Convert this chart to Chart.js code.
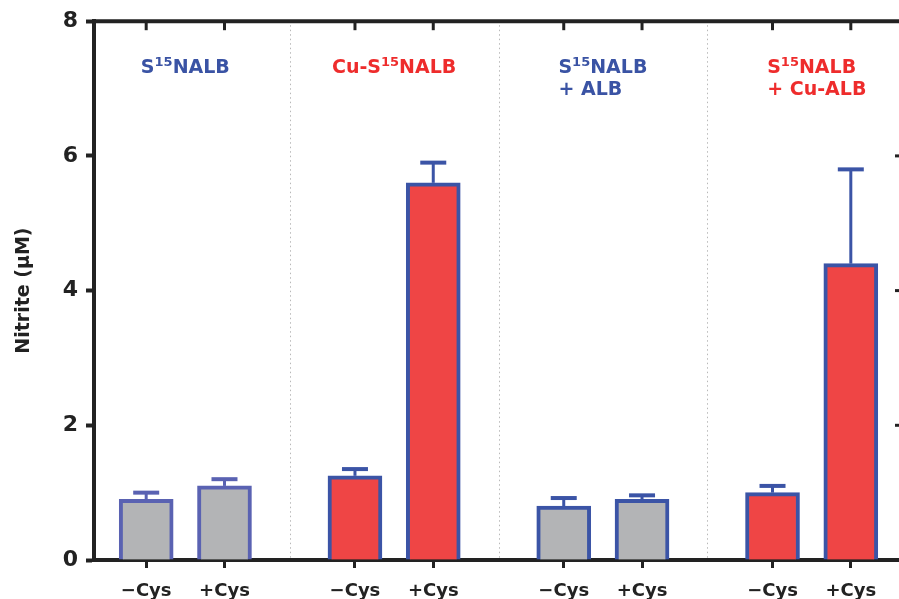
<!DOCTYPE html>
<html>
<head>
<meta charset="utf-8">
<script src="https://cdn.jsdelivr.net/npm/chart.js@4"></script>
<style>
    html, body { margin: 0; padding: 0; background: #fff; overflow: hidden; }
    canvas { display: block; }
</style>
</head>
<body>
<canvas id="nitriteChart" width="910" height="599"></canvas>
<script>
// Data
const slots = [2, 5, 10, 13, 18, 21, 26, 29];          // x slot of each bar
const tickLabels = ['\u2212Cys', '+Cys', '\u2212Cys', '+Cys', '\u2212Cys', '+Cys', '\u2212Cys', '+Cys'];
const nitrite = [0.9, 1.1, 1.25, 5.6, 0.8, 0.9, 1.0, 4.4];
const errorUp = [0.1, 0.1, 0.1, 0.3, 0.12, 0.06, 0.1, 1.4];
const separators = [7.5, 15.5, 23.5];
const groupLines = [['S{15}NALB'], ['Cu-S{15}NALB'], ['S{15}NALB', '+ ALB'], ['S{15}NALB', '+ Cu-ALB']];

// Styles
const BLUE = '#3a53a4';
const RED = '#ee2c2c';
const INK = '#222222';
const groupColors = [BLUE, RED, BLUE, RED];
const barFill = ['#b3b4b6', '#b3b4b6', '#ef4545', '#ef4545', '#b3b4b6', '#b3b4b6', '#ef4545', '#ef4545'];
const barEdge = ['#5a62b2', '#5a62b2', '#3b54a6', '#3b54a6', '#3b54a6', '#3b54a6', '#3b54a6', '#3b54a6'];
const FONT = "'DejaVu Sans', Verdana, sans-serif";

// Draws a label with {nn} as superscript
function drawRich(ctx, str, x, y, size) {
    const parts = str.split(/(\{\d+\})/).filter(p => p.length);
    let cx = x;
    parts.forEach(p => {
        const sup = p.startsWith('{');
        const txt = sup ? p.slice(1, -1) : p;
        ctx.font = `bold ${sup ? Math.round(size * 0.7) : size}px ${FONT}`;
        ctx.fillText(txt, cx, sup ? y - size * 0.38 : y);
        cx += ctx.measureText(txt).width;
    });
    return cx - x;
}

function richWidth(ctx, str, size) {
    const parts = str.split(/(\{\d+\})/).filter(p => p.length);
    let w = 0;
    parts.forEach(p => {
        const sup = p.startsWith('{');
        const txt = sup ? p.slice(1, -1) : p;
        ctx.font = `bold ${sup ? Math.round(size * 0.7) : size}px ${FONT}`;
        w += ctx.measureText(txt).width;
    });
    return w;
}

const decorPlugin = {
    id: 'decor',
    beforeDatasetsDraw(chart) {
        const { ctx, chartArea, scales } = chart;
        ctx.save();
        ctx.strokeStyle = '#b8b8b8';
        ctx.lineWidth = 1;
        ctx.setLineDash([1.5, 3]);
        separators.forEach(s => {
            const x = Math.round(scales.x.getPixelForValue(s)) + 0.5;
            ctx.beginPath();
            ctx.moveTo(x, chartArea.top + 4);
            ctx.lineTo(x, chartArea.bottom);
            ctx.stroke();
        });
        ctx.restore();
    },
    afterDatasetsDraw(chart) {
        const { ctx, scales } = chart;
        ctx.save();
        // upper error bars
        nitrite.forEach((v, i) => {
            const x = scales.x.getPixelForValue(slots[i]);
            const yTop = scales.y.getPixelForValue(v);
            const yErr = scales.y.getPixelForValue(v + errorUp[i]);
            ctx.strokeStyle = barEdge[i];
            ctx.lineWidth = 3;
            ctx.beginPath();
            ctx.moveTo(x, yTop);
            ctx.lineTo(x, yErr);
            ctx.stroke();
            ctx.lineWidth = 4;
            ctx.beginPath();
            ctx.moveTo(x - 13, yErr);
            ctx.lineTo(x + 13, yErr);
            ctx.stroke();
        });
        ctx.restore();
    },
    afterDraw(chart) {
        const { ctx, chartArea, scales } = chart;
        ctx.save();
        ctx.strokeStyle = INK;
        ctx.lineWidth = 4;
        // top frame line
        ctx.beginPath();
        ctx.moveTo(chartArea.left, chartArea.top);
        ctx.lineTo(chartArea.right + 4, chartArea.top);
        ctx.stroke();
        // inward ticks on top
        ctx.lineWidth = 3;
        slots.forEach(s => {
            const x = scales.x.getPixelForValue(s);
            ctx.beginPath();
            ctx.moveTo(x, chartArea.top);
            ctx.lineTo(x, chartArea.top + 9);
            ctx.stroke();
        });
        // inward ticks on right
        [2, 4, 6].forEach(v => {
            const y = scales.y.getPixelForValue(v);
            ctx.beginPath();
            ctx.moveTo(chartArea.right, y);
            ctx.lineTo(chartArea.right - 8, y);
            ctx.stroke();
        });
        // group titles
        const size = 19;
        ctx.textBaseline = 'alphabetic';
        ctx.textAlign = 'left';
        groupLines.forEach((lines, g) => {
            const cx = (scales.x.getPixelForValue(slots[g * 2]) + scales.x.getPixelForValue(slots[g * 2 + 1])) / 2;
            const left = cx - richWidth(ctx, lines[0], size) / 2;
            ctx.fillStyle = groupColors[g];
            lines.forEach((line, k) => {
                drawRich(ctx, line, left, 73 + k * 22, size);
            });
        });
        ctx.restore();
    }
};

new Chart(document.getElementById('nitriteChart'), {
    type: 'bar',
    data: {
        datasets: [{
            data: slots.map((s, i) => ({ x: s, y: nitrite[i] })),
            backgroundColor: barFill,
            borderColor: barEdge,
            borderWidth: 4,
            borderSkipped: 'start',
            barThickness: 54
        }]
    },
    options: {
        responsive: false,
        animation: false,
        layout: { padding: { top: 21, right: 7, left: 0, bottom: 0 } },
        plugins: {
            legend: { display: false },
            tooltip: { enabled: false }
        },
        scales: {
            x: {
                type: 'linear',
                min: 0,
                max: 31,
                offset: false,
                afterBuildTicks: scale => { scale.ticks = slots.map(v => ({ value: v })); },
                afterFit: scale => { scale.height = 39; },
                border: { display: true, color: INK, width: 4 },
                grid: { offset: false, drawOnChartArea: false, drawTicks: true, tickLength: 8, tickWidth: 3, tickColor: INK },
                ticks: {
                    color: INK,
                    padding: 13,
                    autoSkip: false,
                    maxRotation: 0,
                    font: { family: FONT, size: 18, weight: 'bold' },
                    callback: value => tickLabels[slots.indexOf(value)]
                }
            },
            y: {
                min: 0,
                max: 8,
                afterFit: scale => { scale.width = 94; },
                border: { display: true, color: INK, width: 4 },
                grid: { drawOnChartArea: false, drawTicks: true, tickLength: 8, tickWidth: 4, tickColor: INK },
                ticks: {
                    stepSize: 2,
                    color: INK,
                    padding: 8,
                    font: { family: FONT, size: 22, weight: 'bold' }
                },
                title: {
                    display: true,
                    text: 'Nitrite (\u03bcM)',
                    color: INK,
                    padding: { top: 13, bottom: 0 },
                    font: { family: FONT, size: 19, weight: 'bold' }
                }
            }
        }
    },
    plugins: [decorPlugin]
});
</script>
</body>
</html>
